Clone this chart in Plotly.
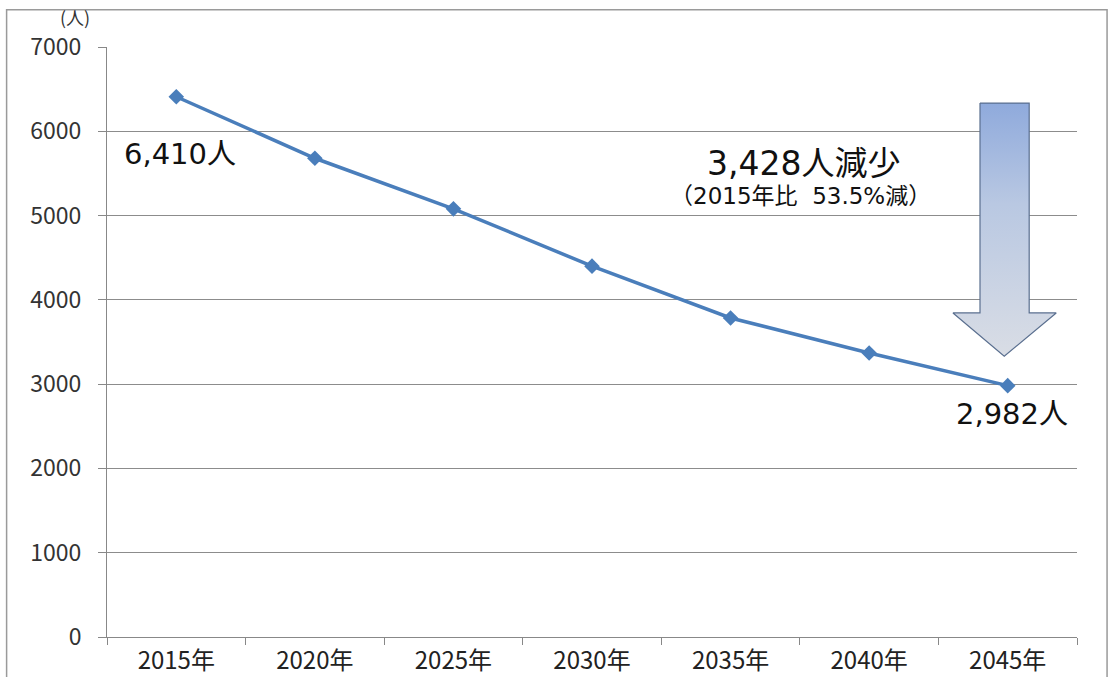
import plotly.graph_objects as go

years = ["2015年", "2020年", "2025年", "2030年", "2035年", "2040年", "2045年"]
population = [6410, 5680, 5080, 4400, 3785, 3370, 2982]
y_ticks = [0, 1000, 2000, 3000, 4000, 5000, 6000, 7000]

# decorative arrow outline (in overlay axis units: x = category index, y = persons)
arrow_x = [5.80, 6.155, 6.155, 6.35, 5.975, 5.605, 5.80, 5.80]
arrow_y = [6335, 6335, 3845, 3845, 3330, 3845, 3845, 6335]

FONT = "Noto Sans CJK JP"
WIDE = "DejaVu Sans, Noto Sans CJK JP"

fig = go.Figure()

fig.add_trace(go.Scatter(
    x=years, y=population, mode="lines+markers",
    line=dict(color="#4A7EBB", width=3.5),
    marker=dict(symbol="diamond", size=12, color="#4A7EBB"),
    showlegend=False, hoverinfo="skip",
))

fig.add_trace(go.Scatter(
    x=arrow_x, y=arrow_y, xaxis="x2", yaxis="y",
    mode="lines", fill="toself",
    line=dict(color="#5A6F8F", width=1.2),
    fillgradient=dict(type="vertical",
                      colorscale=[[0, "#D9DDE5"], [0.6, "#B9C8E2"], [1, "#8FAADC"]]),
    showlegend=False, hoverinfo="skip",
))

fig.update_layout(
    width=1109, height=677,
    margin=dict(l=107, r=32, t=47, b=40),
    paper_bgcolor="white", plot_bgcolor="white",
    font=dict(family=FONT, color="#333333"),
    xaxis=dict(
        type="category", categoryorder="array", categoryarray=years,
        tickson="boundaries", ticks="outside", ticklen=7, tickcolor="#888888",
        showline=True, linecolor="#888888", linewidth=1, automargin=False,
        showgrid=False, tickfont=dict(size=24, family=FONT, color="#222222"),
        ticklabelstandoff=2, range=[-0.5, 6.5],
    ),
    xaxis2=dict(overlaying="x", range=[-0.5, 6.5], visible=False),
    yaxis=dict(
        range=[0, 7000], tickvals=y_ticks, ticks="outside", ticklen=8,
        tickcolor="#888888", showline=True, linecolor="#888888", linewidth=1,
        showgrid=True, gridcolor="#8C8C8C", gridwidth=1, zeroline=False,
        automargin=False, ticklabelstandoff=12,
        tickfont=dict(size=23, family=FONT, color="#333333"),
    ),
    annotations=[
        dict(text="(人)", xref="paper", yref="paper", x=-0.033, y=1.0, yshift=30,
             yanchor="middle", xanchor="center", showarrow=False,
             font=dict(size=18, color="#333333")),
        dict(text="6,410人", xref="x", yref="y", x=years[0], y=population[0],
             yshift=-57, xshift=4, showarrow=False,
             font=dict(size=29, family=WIDE, color="#111111")),
        dict(text="2,982人", xref="x", yref="y", x=years[-1], y=population[-1],
             yshift=-28, xshift=4, showarrow=False,
             font=dict(size=29, family=WIDE, color="#111111")),
        dict(text="3,428人減少", xref="paper", yref="paper", x=0.718, y=0.803,
             xanchor="center", yanchor="middle", showarrow=False,
             font=dict(size=33, family=WIDE, color="#111111")),
        dict(text="（2015年比  53.5%減）", xref="paper", yref="paper", x=0.715, y=0.747,
             xanchor="center", yanchor="middle", showarrow=False,
             font=dict(size=23, family=WIDE, color="#111111")),
    ],
    shapes=[
        dict(type="rect", xref="paper", yref="paper",
             x0=-0.1035, x1=1.031, y0=-0.2, y1=1.063,
             line=dict(color="#9A9A9A", width=1.5), layer="below"),
    ],
)

fig.write_html("out.html")
